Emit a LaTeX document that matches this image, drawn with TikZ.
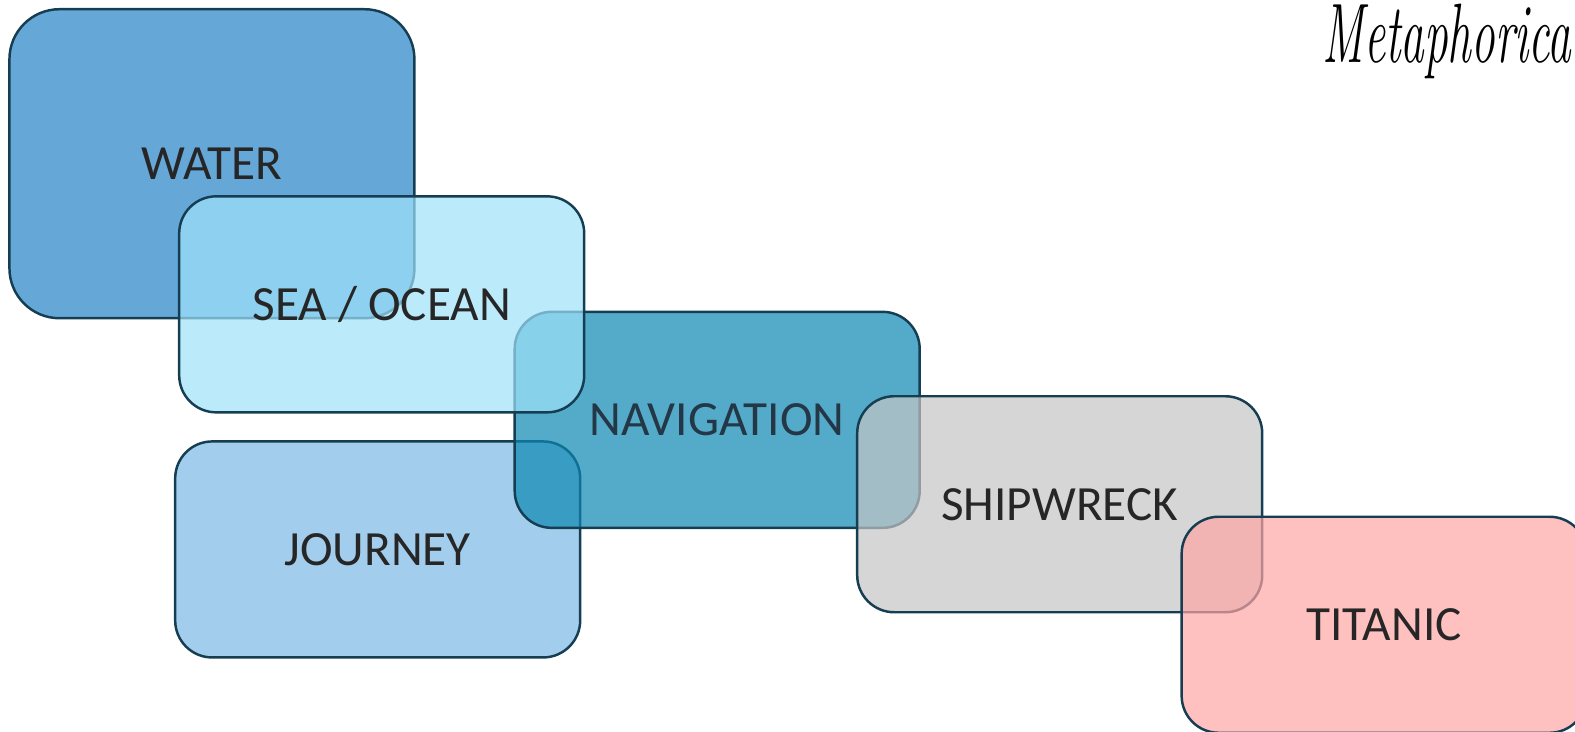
\documentclass[tikz,border=0pt]{standalone}
\usepackage{fontspec}
\newfontfamily\labelfont{Carlito}
\usepackage{tikz}

\definecolor{edgeblue}{RGB}{22,62,82}
\definecolor{labelgray}{RGB}{38,38,38}
\definecolor{navtext}{RGB}{36,55,70}
\definecolor{waterblue}{RGB}{36,131,199}
\definecolor{seablue}{RGB}{158,225,249}
\definecolor{navblue}{RGB}{12,135,178}
\definecolor{journeyblue}{RGB}{124,184,229}
\definecolor{wreckgray}{RGB}{196,196,196}
\definecolor{titanicpink}{RGB}{255,165,165}

\begin{document}
\begin{tikzpicture}[x=0.10045mm, y=-0.10045mm,
    topic/.style={draw=edgeblue, line width=0.7pt, rounded corners=3.7mm,
        fill opacity=0.7, text opacity=1, minimum width=40.5mm, minimum height=21.6mm,
        text=labelgray, font=\labelfont\fontsize{14}{17}\selectfont}]
    \useasboundingbox (0,0) rectangle (1568,728);
    \clip (0,0) rectangle (1568,728);

    % Title, cut off at the right edge
    \node[anchor=base west, inner sep=0pt] (title) at (1316,62)
        {\scalebox{0.56}[1]{\fontsize{24}{28}\selectfont\itshape Metaphorical}};

    % Chain of overlapping topics
    \node[topic, fill=waterblue, minimum height=30.9mm, rounded corners=5mm] (water) at (211,163) {WATER};
    \node[topic, fill=journeyblue] (journey) at (376,547) {JOURNEY};
    \node[topic, fill=navblue, text=navtext] (navigation) at (714,418) {NAVIGATION};
    \node[topic, fill=seablue] (sea) at (380,303) {SEA / OCEAN};
    \node[topic, fill=wreckgray] (shipwreck) at (1055,502) {SHIPWRECK};
    \node[topic, fill=titanicpink] (titanic) at (1378,622) {TITANIC};
\end{tikzpicture}
\end{document}
